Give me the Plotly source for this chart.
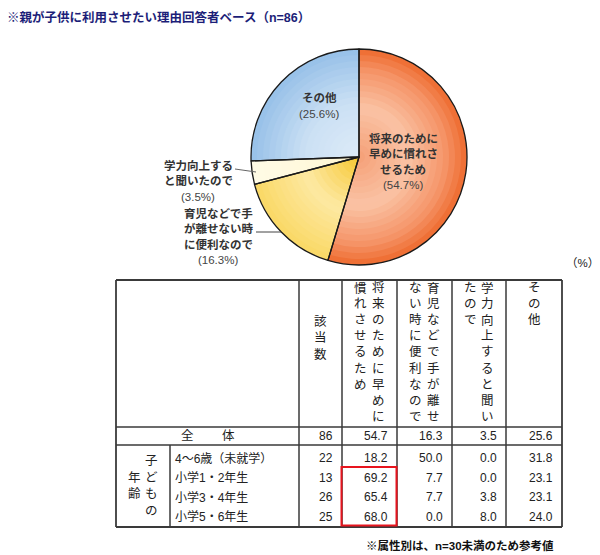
import plotly.graph_objects as go

# Page body has an 8px default margin, so the figure is sized to fit the window
OFF = 8
W, H = 600 - OFF, 555 - OFF
FONT = "Liberation Sans, Noto Sans CJK JP, sans-serif"

# ---------------- data ----------------
title_text = "※親が子供に利用させたい理由回答者ベース（n=86）"
categories = ["将来のために早めに慣れさせるため",
              "育児などで手が離せない時に便利なので",
              "学力向上すると聞いたので",
              "その他"]
pie_values = [54.7, 16.3, 3.5, 25.6]
pie_label_lines = [["将来のために", "早めに慣れさ", "せるため"],
                   ["育児などで手", "が離せない時", "に便利なので"],
                   ["学力向上する", "と聞いたので"],
                   ["その他"]]

col_headers = ["該当数",
               "将来のために早めに慣れさせるため",
               "育児などで手が離せない時に便利なので",
               "学力向上すると聞いたので",
               "その他"]
row_labels = ["全　　 体", "4～6歳（未就学）", "小学1・2年生", "小学3・4年生", "小学5・6年生"]
group_label = "子どもの年齢"
n_counts = [86, 22, 13, 26, 25]
pct_future = [54.7, 18.2, 69.2, 65.4, 68.0]
pct_childcare = [16.3, 50.0, 7.7, 7.7, 0.0]
pct_academic = [3.5, 0.0, 0.0, 3.8, 8.0]
pct_other = [25.6, 31.8, 23.1, 23.1, 24.0]
unit_label = "（%）"
footnote = "※属性別は、n=30未満のため参考値"


# ---------------- helpers (screen pixel -> paper) ----------------
def px(x):
    return (x - OFF) / W


def py(y):
    return 1 - (y - OFF) / H


def hex2rgb(h):
    h = h.lstrip("#")
    return [int(h[i:i + 2], 16) for i in (0, 2, 4)]


def interp(stops, t):
    for (t0, c0), (t1, c1) in zip(stops[:-1], stops[1:]):
        if t0 <= t <= t1:
            a = (t - t0) / (t1 - t0) if t1 > t0 else 0
            r0, r1 = hex2rgb(c0), hex2rgb(c1)
            c = [round(r0[i] + (r1[i] - r0[i]) * a) for i in range(3)]
            return "rgb(%d,%d,%d)" % tuple(c)
    return stops[-1][1]


fig = go.Figure()

# ---------------- pie ----------------
CX, CY, R = 359, 157, 108
NR = 18
slice_stops = [
    [(0.0, "#F5A077"), (0.45, "#FAC3A5"), (0.8, "#F59468"), (1.0, "#EE6A2E")],
    [(0.0, "#F6C631"), (0.5, "#FDE9A2"), (1.0, "#FAD865")],
    [(0.0, "#FFF6D2"), (1.0, "#FFFBE6")],
    [(0.0, "#DDEBF8"), (0.5, "#CBE0F4"), (1.0, "#96C0E8")],
]
for k in range(NR):
    f = 1 - k / NR
    r = R * f
    t = max(0.0, f - 0.5 / NR)
    colors = [interp(s, t) for s in slice_stops]
    fig.add_trace(go.Pie(
        values=pie_values, labels=categories, sort=False, direction="clockwise",
        rotation=0, marker=dict(colors=colors, line=dict(width=0)),
        textinfo="none", hoverinfo="skip", showlegend=False,
        domain=dict(x=[px(CX - r), px(CX + r)], y=[py(CY + r), py(CY - r)])))

fig.add_trace(go.Pie(
    values=pie_values, labels=categories, sort=False, direction="clockwise",
    rotation=0, marker=dict(colors=["rgba(0,0,0,0)"] * 4,
                            line=dict(color="#1a1a1a", width=1.3)),
    textinfo="none", hoverinfo="label+value", showlegend=False,
    domain=dict(x=[px(CX - R), px(CX + R)], y=[py(CY + R), py(CY - R)])))

annotations = []
shapes = []


def add_text(x, y, text, size=12, color="#222", xanchor="center", yanchor="middle", bold=False):
    annotations.append(dict(
        x=px(x), y=py(y), xref="paper", yref="paper", showarrow=False,
        text=("<b>%s</b>" % text) if bold else text,
        xanchor=xanchor, yanchor=yanchor,
        font=dict(family=FONT, size=size, color=color)))


# pie labels
label_pos = [(403, 138), (218, 213), (198, 165), (319, 98)]
for i, lines in enumerate(pie_label_lines):
    lx, ly = label_pos[i]
    for j, ln in enumerate(lines):
        add_text(lx, ly + j * 15.8, ln, size=11.5, color="#333", bold=True)
    add_text(lx, ly + len(lines) * 15.8, "(%.1f%%)" % pie_values[i], size=11.5, color="#444")

# leader lines
shapes.append(dict(type="line", xref="paper", yref="paper",
                   x0=px(235), y0=py(169), x1=px(256), y1=py(172),
                   line=dict(color="#666", width=1)))
shapes.append(dict(type="line", xref="paper", yref="paper",
                   x0=px(256), y0=py(232), x1=px(281), y1=py(232),
                   line=dict(color="#444", width=1)))

# title (kept inside the figure's top edge) / unit / footnote
add_text(5, OFF, title_text, size=12.5, color="#1c1e78", xanchor="left", yanchor="top", bold=True)
add_text(582, 263, unit_label, size=11.5, color="#222")
add_text(556, 545, footnote, size=11.5, color="#111", xanchor="right", bold=True)

# ---------------- table ----------------
xs = [116, 299, 342, 397, 452, 506, 562]
y_top, y_head, y_total, y_bot = 280, 427, 445, 527
x_inner = 170
LC = "#3a3a3a"


def line(x0, y0, x1, y1, w=1.5, c=LC):
    shapes.append(dict(type="line", xref="paper", yref="paper",
                       x0=px(x0), y0=py(y0), x1=px(x1), y1=py(y1),
                       line=dict(color=c, width=w)))


line(xs[0], y_top, xs[-1], y_top, 1.8)
line(xs[0], y_bot, xs[-1], y_bot, 1.8)
line(xs[0], y_top, xs[0], y_bot, 1.8)
line(xs[-1], y_top, xs[-1], y_bot, 1.8)
line(xs[0], y_head, xs[-1], y_head)
line(xs[0], y_total, xs[-1], y_total)
for xv in xs[1:-1]:
    line(xv, y_top, xv, y_bot)
line(x_inner, y_total, x_inner, y_bot)

# vertical headers
header_start = [322, 288, 288, 288, 288]
CH = 16.1
for c, hdr in enumerate(col_headers):
    xc = (xs[c + 1] + xs[c + 2]) / 2
    chunks = [hdr[i:i + 9] for i in range(0, len(hdr), 9)]
    nc = len(chunks)
    for j, ch in enumerate(chunks):
        x = xc + (nc - 1) / 2 * 17.5 - j * 17.5
        for i, char in enumerate(ch):
            add_text(x, header_start[c] + i * CH, char, size=12.5, color="#222")

# group label (vertical)
g_chunks = [group_label[0:4], group_label[4:]]
gx = (xs[0] + x_inner) / 2
gy = (y_total + y_bot) / 2
for j, ch in enumerate(g_chunks):
    x = gx + 8.5 - j * 17
    for i, char in enumerate(ch):
        add_text(x, gy + (i - (len(ch) - 1) / 2) * 16.4, char, size=12.5, color="#222")

# rows
row_y = [436, 458, 477.5, 497, 516.5]
cols = [n_counts, pct_future, pct_childcare, pct_academic, pct_other]
for r, lab in enumerate(row_labels):
    if r == 0:
        add_text((xs[0] + xs[1]) / 2, row_y[r], lab, size=12.5, color="#222")
    else:
        add_text(x_inner + 3, row_y[r], lab, size=12, color="#222", xanchor="left")
    for c, arr in enumerate(cols):
        txt = str(arr[r]) if c == 0 else "%.1f" % arr[r]
        add_text(xs[c + 2] - 7, row_y[r], txt, size=12, color="#222", xanchor="right")

# highlight box
shapes.append(dict(type="rect", xref="paper", yref="paper",
                   x0=px(341.5), y0=py(467), x1=px(396.5), y1=py(525.5),
                   line=dict(color="#E8141E", width=2)))

fig.update_layout(
    width=W, height=H, margin=dict(l=0, r=0, t=0, b=0),
    paper_bgcolor="white", plot_bgcolor="white",
    annotations=annotations, shapes=shapes, showlegend=False)

fig.write_html("out.html")
